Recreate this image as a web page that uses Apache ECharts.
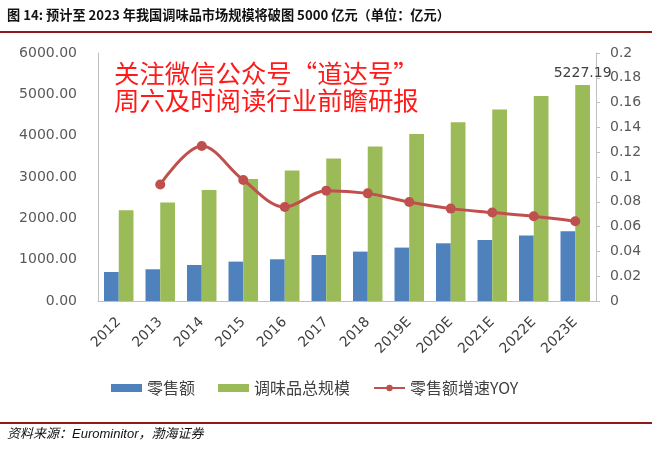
<!DOCTYPE html>
<html>
<head>
<meta charset="utf-8">
<script src="https://cdn.jsdelivr.net/npm/echarts@6/dist/echarts.min.js"></script>
<style>
html,body{margin:0;padding:0;background:#fff;}
#chart{width:652px;height:456px;}
</style>
</head>
<body>
<div id="chart"></div>
<script>
const categories = ['2012','2013','2014','2015','2016','2017','2018','2019E','2020E','2021E','2022E','2023E'];
const retailSales = [702, 767, 871, 953, 1009, 1113, 1195, 1292, 1396, 1476, 1582, 1686];
const totalScale = [2194, 2381, 2686, 2952, 3155, 3445, 3736, 4041, 4324, 4631, 4960, 5227.19];
const retailYoY = [null, 0.094, 0.125, 0.0976, 0.0758, 0.089, 0.0868, 0.0798, 0.0745, 0.0713, 0.0683, 0.0643];
const seriesNames = ['零售额', '调味品总规模', '零售额增速YOY'];
const titleText = '图 14: 预计至 2023 年我国调味品市场规模将破图 5000 亿元（单位：亿元）';
const sourceText = '资料来源：Eurominitor，渤海证券';
const watermark1 = '关注微信公众号“道达号”';
const watermark2 = '周六及时阅读行业前瞻研报';

const chart = echarts.init(document.getElementById('chart'), null, {renderer: 'canvas'});
const axisFont = 'DejaVu Sans';
const totalData = totalScale.map((v, i) => i === totalScale.length - 1
  ? {value: v, label: {show: true, position: 'top', distance: 5, color: '#404040', fontSize: 14, fontFamily: axisFont, formatter: (p) => p.value.toFixed(2)}}
  : v);

chart.setOption({
  animation: false,
  backgroundColor: '#fff',
  graphic: [
    {type: 'text', left: 7, top: 8, style: {text: titleText, font: 'bold 13.2px "Noto Sans CJK SC"', fill: '#111'}},
    {type: 'rect', shape: {x: 0, y: 31, width: 652, height: 2}, style: {fill: '#8E1A1A'}},
    {type: 'rect', shape: {x: 0, y: 422, width: 652, height: 2}, style: {fill: '#8E1A1A'}},
    {type: 'text', left: 7, top: 428, style: {text: sourceText, font: 'italic 13px "Liberation Sans", "Noto Sans CJK SC"', fill: '#111'}},
    {type: 'text', left: 114, top: 61, z: 10, style: {text: watermark1, font: '25.4px "Noto Sans CJK SC"', fill: '#FF1A1A'}},
    {type: 'text', left: 114, top: 88, z: 10, style: {text: watermark2, font: '25.4px "Noto Sans CJK SC"', fill: '#FF1A1A'}}
  ],
  legend: {
    left: 106, top: 375,
    itemWidth: 31, itemHeight: 8, itemGap: 23,
    textStyle: {fontSize: 16, color: '#404040', fontFamily: 'Noto Sans CJK SC'},
    data: [
      {name: seriesNames[0], icon: 'rect'},
      {name: seriesNames[1], icon: 'rect'},
      {name: seriesNames[2]}
    ]
  },
  grid: {left: 98, right: 56, top: 53, bottom: 155},
  xAxis: {
    type: 'category',
    data: categories,
    axisLine: {lineStyle: {color: '#BFBFBF'}},
    axisTick: {show: false},
    axisLabel: {rotate: 45, fontSize: 14, color: '#404040', fontFamily: axisFont, margin: 19}
  },
  yAxis: [
    {
      type: 'value', min: 0, max: 6000, interval: 1000,
      axisLine: {show: true, lineStyle: {color: '#BFBFBF'}},
      axisTick: {show: false},
      splitLine: {show: false},
      axisLabel: {formatter: (v) => v.toFixed(2), fontSize: 14, color: '#595959', fontFamily: axisFont, margin: 21}
    },
    {
      type: 'value', min: 0, max: 0.2, interval: 0.02, position: 'right',
      axisLine: {show: true, lineStyle: {color: '#BFBFBF'}},
      axisTick: {show: true, length: 4, lineStyle: {color: '#BFBFBF'}},
      splitLine: {show: false},
      axisLabel: {formatter: (v) => String(parseFloat(v.toFixed(2))), fontSize: 14, color: '#595959', fontFamily: axisFont, margin: 14}
    }
  ],
  series: [
    {name: seriesNames[0], type: 'bar', data: retailSales, barGap: '0%', barCategoryGap: '29%', itemStyle: {color: '#4F81BD'}},
    {name: seriesNames[1], type: 'bar', data: totalData, itemStyle: {color: '#9BBB59'}},
    {name: seriesNames[2], type: 'line', yAxisIndex: 1, data: retailYoY, smooth: 0.35, symbol: 'circle', symbolSize: 10,
     lineStyle: {color: '#C0504D', width: 3}, itemStyle: {color: '#C0504D'}, z: 5}
  ]
});
</script>
</body>
</html>
